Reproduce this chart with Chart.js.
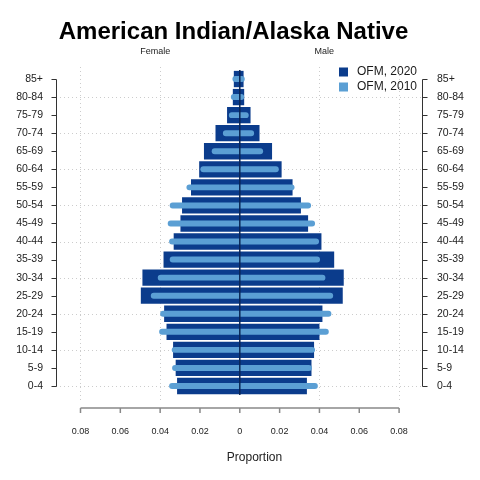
<!DOCTYPE html>
<html>
<head>
<meta charset="utf-8">
<script src="https://cdn.jsdelivr.net/npm/chart.js@4.4.1/dist/chart.umd.min.js"></script>
<style>
  html, body { margin: 0; padding: 0; background: #ffffff; }
  #wrap { width: 480px; height: 480px; }
</style>
</head>
<body>
<div id="wrap"><canvas id="c" width="480" height="480"></canvas></div>
<script>
const ages = ["85+","80-84","75-79","70-74","65-69","60-64","55-59","50-54","45-49","40-44","35-39","30-34","25-29","20-24","15-19","10-14","5-9","0-4"];
const female2020 = [0.0030,0.0035,0.0064,0.0122,0.0180,0.0204,0.0245,0.0290,0.0298,0.0332,0.0383,0.0489,0.0497,0.0380,0.0368,0.0335,0.0322,0.0315];
const male2020   = [0.0019,0.0022,0.0054,0.0099,0.0162,0.0210,0.0265,0.0307,0.0343,0.0410,0.0474,0.0522,0.0517,0.0415,0.0400,0.0373,0.0360,0.0337];
const female2010 = [0.0037,0.0045,0.0055,0.0085,0.0141,0.0198,0.0268,0.0352,0.0362,0.0355,0.0352,0.0412,0.0447,0.0400,0.0405,0.0342,0.0340,0.0355];
const male2010   = [0.0025,0.0022,0.0045,0.0072,0.0117,0.0196,0.0275,0.0358,0.0378,0.0398,0.0403,0.0430,0.0469,0.0460,0.0447,0.0378,0.0362,0.0392];
const xTickValues = [-0.08,-0.06,-0.04,-0.02,0,0.02,0.04,0.06,0.08];
const xTickLabels = ["0.08","0.06","0.04","0.02","0","0.02","0.04","0.06","0.08"];
const xGridValues = [-0.08,-0.04,0.04,0.08];
const seriesNames = ["OFM, 2020","OFM, 2010"];
const titleText = "American Indian/Alaska Native";
const sideLabels = ["Female","Male"];
const xAxisTitle = "Proportion";

const FONT = "'Liberation Sans', Arial, Helvetica, sans-serif";
const DARK = '#0b3c8c';
const LIGHT = '#5b9fd4';

const decor = {
  id: 'decor',
  beforeDatasetsDraw(chart) {
    const {ctx, chartArea: a, scales: {x, y}} = chart;
    ctx.save();
    ctx.strokeStyle = '#cccccc';
    ctx.lineWidth = 1;
    ctx.setLineDash([1, 3]);
    xGridValues.forEach(v => {
      const px = Math.round(x.getPixelForValue(v)) + 0.5;
      ctx.beginPath(); ctx.moveTo(px, a.top - 3); ctx.lineTo(px, a.bottom + 8); ctx.stroke();
    });
    ages.forEach((lab, i) => {
      if (i % 2 === 1) {
        const py = Math.round(y.getPixelForValue(i)) + 0.5;
        ctx.beginPath(); ctx.moveTo(a.left, py); ctx.lineTo(a.right, py); ctx.stroke();
      }
    });
    ctx.restore();
  },
  afterDatasetsDraw(chart) {
    const {ctx, chartArea: a, scales: {x, y}} = chart;
    ctx.save();
    // centre line
    const cx = x.getPixelForValue(0);
    ctx.strokeStyle = '#0a2656';
    ctx.lineWidth = 1.5;
    ctx.beginPath(); ctx.moveTo(cx, a.top); ctx.lineTo(cx, a.bottom); ctx.stroke();
    // y axes
    const yTop = Math.round(y.getPixelForValue(0)) + 0.5;
    const yBot = Math.round(y.getPixelForValue(ages.length - 1)) + 0.5;
    ctx.strokeStyle = '#333333';
    ctx.lineWidth = 1;
    [[a.left, -5], [a.right, 5]].forEach(([ax, d]) => {
      const px = Math.round(ax) + 0.5;
      ctx.beginPath(); ctx.moveTo(px, yTop); ctx.lineTo(px, yBot); ctx.stroke();
      ages.forEach((lab, i) => {
        const py = Math.round(y.getPixelForValue(i)) + 0.5;
        ctx.beginPath(); ctx.moveTo(px, py); ctx.lineTo(px + d, py); ctx.stroke();
      });
    });
    // x axis
    const axY = a.bottom + 13;
    ctx.strokeStyle = '#888888';
    ctx.lineWidth = 1.5;
    ctx.beginPath();
    ctx.moveTo(x.getPixelForValue(xTickValues[0]), axY);
    ctx.lineTo(x.getPixelForValue(xTickValues[xTickValues.length - 1]), axY);
    ctx.stroke();
    xTickValues.forEach(v => {
      const px = x.getPixelForValue(v);
      ctx.beginPath(); ctx.moveTo(px, axY); ctx.lineTo(px, axY + 5); ctx.stroke();
    });
    // title
    ctx.fillStyle = '#000000';
    ctx.font = 'bold 24px ' + FONT;
    ctx.textAlign = 'center';
    ctx.textBaseline = 'alphabetic';
    ctx.fillText(titleText, 233.5, 39);
    // side labels
    ctx.font = '9px ' + FONT;
    ctx.fillStyle = '#222222';
    ctx.textBaseline = 'middle';
    ctx.fillText(sideLabels[0], x.getPixelForValue(-0.0424), 52);
    ctx.fillText(sideLabels[1], x.getPixelForValue(0.0424), 52);
    // x axis title
    ctx.font = '12px ' + FONT;
    ctx.fillText(xAxisTitle, 254.5, 457.5);
    // legend
    const cols = [DARK, LIGHT];
    ctx.textAlign = 'left';
    ctx.font = '12px ' + FONT;
    seriesNames.forEach((n, i) => {
      const cy = 72 + i * 15;
      ctx.fillStyle = cols[i];
      ctx.fillRect(339, cy - 4.5, 9, 9);
      ctx.fillStyle = '#1a1a1a';
      ctx.fillText(n, 357, cy);
    });
    ctx.restore();
  }
};

new Chart(document.getElementById('c'), {
  type: 'bar',
  data: {
    labels: ages,
    datasets: [
      {
        label: seriesNames[0],
        data: ages.map((a, i) => [-female2020[i], male2020[i]]),
        backgroundColor: DARK,
        borderWidth: 0,
        barPercentage: 0.905,
        categoryPercentage: 1,
        grouped: false,
        order: 1
      },
      {
        label: seriesNames[1],
        data: ages.map((a, i) => [-female2010[i], male2010[i]]),
        backgroundColor: LIGHT,
        borderWidth: 0,
        borderRadius: 3,
        borderSkipped: false,
        barPercentage: 0.33,
        categoryPercentage: 1,
        grouped: false,
        order: 0
      }
    ]
  },
  options: {
    indexAxis: 'y',
    responsive: false,
    animation: false,
    devicePixelRatio: 1,
    layout: { padding: { top: 70, left: 0, right: 0, bottom: 0 } },
    plugins: { legend: { display: false }, title: { display: false }, tooltip: { enabled: false } },
    scales: {
      x: {
        type: 'linear',
        position: 'bottom',
        min: -0.0923,
        max: 0.0915,
        afterBuildTicks: s => { s.ticks = xTickValues.map(v => ({ value: v })); },
        afterFit: s => { s.height = 85; },
        grid: { display: false, drawTicks: false },
        border: { display: false },
        ticks: {
          padding: 31,
          color: '#222222',
          font: { family: FONT, size: 9 },
          callback: (v, i) => xTickLabels[i]
        }
      },
      y: {
        type: 'category',
        position: 'left',
        offset: true,
        afterFit: s => { s.width = 56; },
        grid: { display: false, drawTicks: false },
        border: { display: false },
        ticks: { autoSkip: false, padding: 13, color: '#222222', font: { family: FONT, size: 10.5 } }
      },
      y2: {
        type: 'category',
        position: 'right',
        offset: true,
        labels: ages,
        afterFit: s => { s.width = 58; },
        grid: { display: false, drawTicks: false },
        border: { display: false },
        ticks: { autoSkip: false, padding: 15, color: '#222222', font: { family: FONT, size: 10.5 } }
      }
    }
  },
  plugins: [decor]
});
</script>
</body>
</html>
